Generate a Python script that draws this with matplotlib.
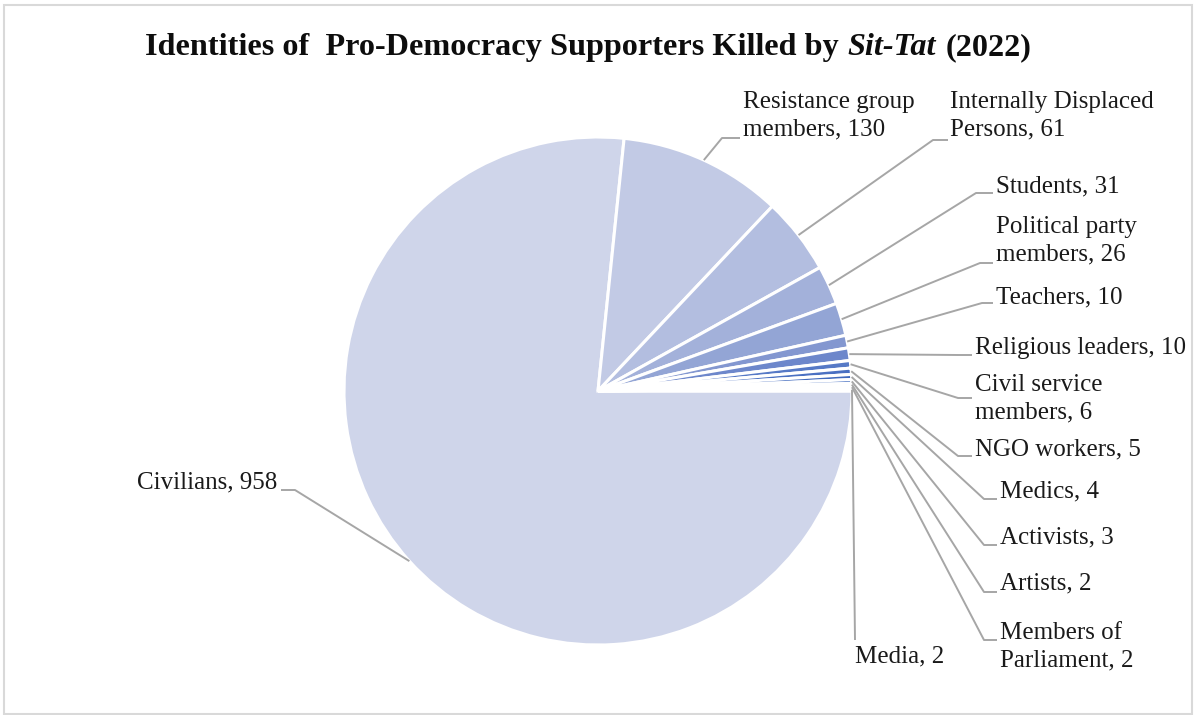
import numpy as np
import matplotlib.pyplot as plt

categories = ['Civilians', 'Resistance group\nmembers', 'Internally Displaced\nPersons',
              'Students', 'Political party\nmembers', 'Teachers', 'Religious leaders',
              'Civil service\nmembers', 'NGO workers', 'Medics', 'Activists', 'Artists',
              'Members of\nParliament', 'Media']
killed = [958, 130, 61, 31, 26, 10, 10, 6, 5, 4, 3, 2, 2, 2]

colors = ['#CFD5EA', '#C2CAE5', '#B3BEE0', '#A3B1DA', '#93A5D5', '#8397D0', '#6D87CB',
          '#5679C6', '#4A70C2', '#4069BD', '#3F69BF', '#6A89CC', '#9CAFDC', '#C3CDE8']

# label text anchor (pixels, y from top) and alignment
label_xy = [(277, 482, 'right'), (743, 116, 'left'), (950, 116, 'left'), (996, 186, 'left'),
            (996, 241, 'left'), (996, 297, 'left'), (975, 348, 'left'), (975, 399, 'left'),
            (975, 449, 'left'), (1000, 491, 'left'), (1000, 537, 'left'), (1000, 583, 'left'),
            (1000, 647, 'left'), (855, 656, 'left')]
# leader elbow point and end x of the short horizontal piece
elbow = [(295, 490, 281), (722, 138, 740), (933, 140, 948), (976, 193, 993),
         (980, 263, 993), (982, 303, 993), (958, 355, 972), (958, 398, 972),
         (958, 456, 972), (984, 499, 997), (984, 545, 997), (984, 592, 997),
         (984, 640, 997), (855, 640, 855)]

W, H = 1195, 715
fig = plt.figure(figsize=(W / 100, H / 100), dpi=100)
plt.rcParams['font.family'] = 'Liberation Serif'

# pie axes: centre (598, 391), radius 254 px
cx, cy, r = 598, 391, 254
ax = fig.add_axes([(cx - r) / W, (H - cy - r) / H, 2 * r / W, 2 * r / H])
wedges, _ = ax.pie(killed, colors=colors, startangle=0, counterclock=False, radius=1,
                   wedgeprops=dict(edgecolor='white', linewidth=2.2))
ax.set_xlim(-1, 1)
ax.set_ylim(-1, 1)
ax.set_aspect('equal')
ax.axis('off')

# overlay in pixel coordinates for labels, leaders, title and border
ov = fig.add_axes([0, 0, 1, 1], facecolor='none')
ov.set_xlim(0, W)
ov.set_ylim(H, 0)
ov.axis('off')

to_px = ax.transData + ov.transData.inverted()
lc = '#A6A6A6'
for w, cat, n, (tx, ty, ha), (ex, ey, hx) in zip(wedges, categories, killed, label_xy, elbow):
    mid = np.deg2rad((w.theta1 + w.theta2) / 2)
    sx, sy = to_px.transform((w.r * np.cos(mid), w.r * np.sin(mid)))
    ov.plot([sx, ex, hx], [sy, ey, ey], color=lc, lw=1.4, solid_capstyle='butt')
    ov.text(tx, ty, '{}, {}'.format(cat, n), ha=ha, va='center', fontsize=18,
            color='#1a1a1a', linespacing=1.32)

# title with italic part
fig.canvas.draw()
rend = fig.canvas.get_renderer()
parts = [('Identities of  Pro-Democracy Supporters Killed by', 'normal'),
         ('Sit-Tat', 'italic'), ('(2022)', 'normal')]
gap = 9
texts = [ov.text(0, 55, s, fontsize=23.2, fontweight='bold', style=st, va='baseline',
                 ha='left', color='#0d0d0d') for s, st in parts]
widths = [t.get_window_extent(rend).width for t in texts]
x = 588 - (sum(widths) + gap * (len(widths) - 1)) / 2
for t, wd in zip(texts, widths):
    t.set_x(x)
    x += wd + gap

ov.add_patch(plt.Rectangle((4.5, 4.5), 1188, 709, fill=False, edgecolor='#D9D9D9', lw=1.5))

fig.savefig('out.png', dpi=100)
